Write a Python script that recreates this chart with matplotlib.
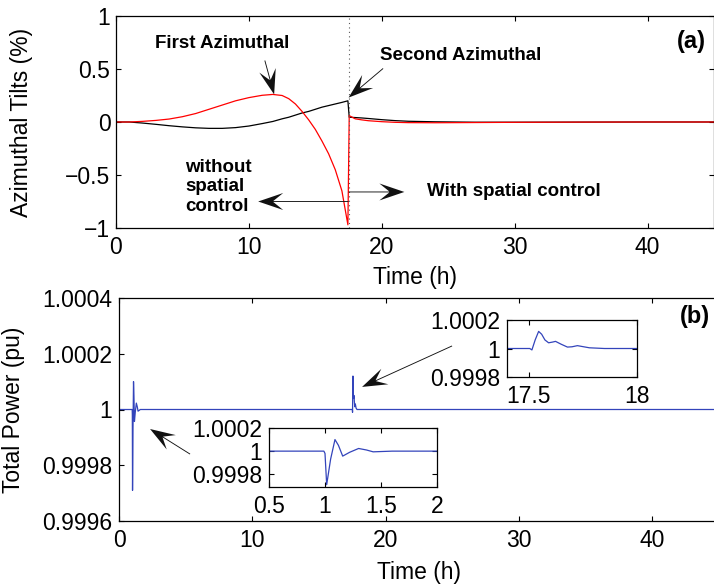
import numpy as np
import matplotlib.pyplot as plt
from matplotlib.patches import FancyArrow
from matplotlib.transforms import IdentityTransform
from matplotlib.ticker import FuncFormatter

plt.rcParams['font.family'] = ['Liberation Sans', 'DejaVu Sans']

# (a) azimuthal tilts (%)
t_tilt = [0, 1, 2, 3, 4, 5, 6, 7, 8, 9, 10, 11, 11.8, 12.5, 13, 13.5, 14, 14.5,
          15, 15.5, 16, 16.5, 17, 17.45, 17.55, 18, 18.5, 19, 20, 21, 22, 24,
          27, 30, 35, 40, 45]
tilt_first = [0, 0, 0.006, 0.015, 0.028, 0.05, 0.08, 0.12, 0.16, 0.2, 0.23,
              0.252, 0.26, 0.25, 0.22, 0.17, 0.1, 0.02, -0.07, -0.18, -0.3,
              -0.45, -0.65, -0.97, 0.06, 0.03, 0.02, 0.012, 0.003, -0.003,
              -0.006, -0.007, -0.005, -0.003, -0.001, 0, 0]
tilt_second = [0, 0, -0.01, -0.022, -0.035, -0.046, -0.055, -0.06, -0.06,
               -0.053, -0.038, -0.015, 0.005, 0.03, 0.045, 0.065, 0.085, 0.1,
               0.12, 0.14, 0.155, 0.17, 0.185, 0.2, 0.045, 0.042, 0.038, 0.033,
               0.022, 0.013, 0.007, 0.002, -0.002, -0.002, -0.001, 0, 0]
switch_time = 17.5

# (b) total power (pu)
t_power = [0, 0.02, 0.5, 0.99, 1.0, 1.015, 1.05, 1.089, 1.12, 1.158, 1.22,
           1.30, 1.37, 1.43, 1.6, 2.0, 10, 17.4, 17.505, 17.515, 17.53, 17.546,
           17.56, 17.575, 17.592, 17.61, 17.624, 17.65, 17.679, 17.7, 17.725,
           17.78, 17.85, 18.0, 30, 45]
power = [0.99993, 1.0, 1.0, 1.0, 0.99998, 0.99971, 0.99993, 1.0001, 1.00005,
         0.999957, 0.99999, 1.000023, 1.00001, 0.999994, 1.0, 1.0, 1.0, 1.0,
         1.0, 0.99999, 1.00006, 1.00012, 1.0001, 1.00006, 1.00004, 1.000045,
         1.00005, 1.00003, 1.00001, 1.000012, 1.00002, 1.000005, 1.0, 1.0,
         1.0, 1.0]

FS = 16.5
blue = '#3344bb'
fmt = FuncFormatter(lambda v, p: f'{v:g}'.replace('-', '\u2212'))

W, H = 714, 588
fig = plt.figure(figsize=(W / 100, H / 100), dpi=100)


def px_axes(x0, y0, x1, y1):
    return fig.add_axes([x0 / W, 1 - y1 / H, (x1 - x0) / W, (y1 - y0) / H])


def style(ax, pad_x=6, pad_y=4):
    ax.tick_params(direction='in', top=True, right=True, length=3.5,
                   width=0.8, labelsize=FS)
    ax.tick_params(axis='x', pad=pad_x)
    ax.tick_params(axis='y', pad=pad_y)
    for s in ax.spines.values():
        s.set_linewidth(0.9)
    ax.xaxis.set_major_formatter(fmt)
    ax.yaxis.set_major_formatter(fmt)


def big_arrow(ax, start, tip):
    x0, y0 = ax.transData.transform(start)
    x1, y1 = ax.transData.transform(tip)
    a = FancyArrow(x0, y0, x1 - x0, y1 - y0, width=0.9, head_width=17,
                   head_length=25, length_includes_head=True, overhang=0.4,
                   color='#111111', lw=0, transform=IdentityTransform())
    fig.add_artist(a)


# ---- panel (a)
ax1 = px_axes(116, 16, 714, 228)
ax1.plot(t_tilt, tilt_second, color='black', lw=0.9)
ax1.plot(t_tilt, tilt_first, color='red', lw=0.9)
ax1.axvline(switch_time, ls=(0, (1, 3)), color='0.35', lw=0.8)
ax1.set_xlim(0, 45)
ax1.set_ylim(-1, 1)
ax1.set_xticks([0, 10, 20, 30, 40])
ax1.set_yticks([-1, -0.5, 0, 0.5, 1])
style(ax1)
ax1.set_xlabel('Time (h)', fontsize=FS, labelpad=5)
ax1.set_ylabel('Azimuthal Tilts (%)', fontsize=FS)
ax1.yaxis.set_label_coords(-0.139, 0.5)

kw = dict(fontsize=13.5, fontweight='bold', va='center', ha='left')
ax1.text(2.9, 0.74, 'First Azimuthal', **kw)
ax1.text(19.9, 0.63, 'Second Azimuthal', **kw)
ax1.text(5.2, -0.61, 'without\nspatial\ncontrol', **kw)
ax1.text(23.4, -0.66, 'With spatial control', **kw)
ax1.text(44.4, 0.755, '(a)', fontsize=17, fontweight='bold', ha='right',
         va='center')

# ---- panel (b)
ax2 = px_axes(119, 298, 719, 521)
ax2.plot(t_power, power, color=blue, lw=0.9)
ax2.set_xlim(0, 45)
ax2.set_ylim(0.9996, 1.0004)
ax2.set_xticks([0, 10, 20, 30, 40])
ax2.set_yticks([0.9996, 0.9998, 1.0, 1.0002, 1.0004])
style(ax2, pad_y=5)
ax2.set_xlabel('Time (h)', fontsize=FS, labelpad=6)
ax2.set_ylabel('Total Power (pu)', fontsize=FS)
ax2.yaxis.set_label_coords(-0.157, 0.5)
ax2.text(44.3, 1.000335, '(b)', fontsize=17, fontweight='bold', ha='right',
         va='center')

# insets
ins1 = px_axes(269, 428, 437, 487)
ins1.plot(t_power, power, color=blue, lw=0.9)
ins1.set_xlim(0.5, 2)
ins1.set_ylim(0.99969, 1.0002)
ins1.set_xticks([0.5, 1, 1.5, 2])
ins1.set_yticks([0.9998, 1.0, 1.0002])
style(ins1, pad_x=6, pad_y=5)

ins2 = px_axes(507, 320, 637, 377)
ins2.plot(t_power, power, color=blue, lw=0.9)
ins2.set_xlim(17.4, 18)
ins2.set_ylim(0.9998, 1.0002)
ins2.set_xticks([17.5, 18])
ins2.set_yticks([0.9998, 1.0, 1.0002])
style(ins2, pad_x=6, pad_y=5)

# arrows
big_arrow(ax1, (11.2, 0.58), (11.9, 0.26))
big_arrow(ax1, (20.1, 0.505), (17.5, 0.23))
big_arrow(ax1, (17.5, -0.75), (10.7, -0.75))
big_arrow(ax1, (17.5, -0.66), (21.7, -0.66))
big_arrow(ax2, (24.98, 1.000228), (18.23, 1.000081))
big_arrow(ax2, (5.33, 0.99984), (2.33, 0.99993))

fig.savefig('out.png', dpi=100)
